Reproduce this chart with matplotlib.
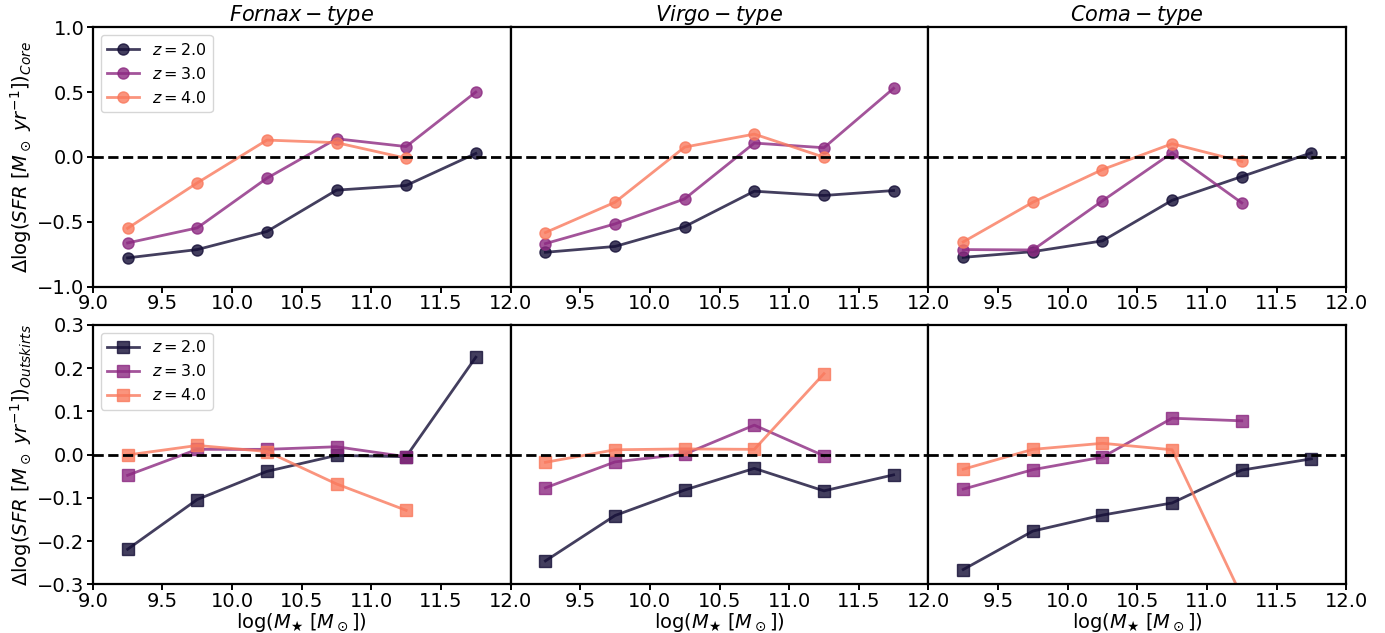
import numpy as np
import matplotlib
matplotlib.use("Agg")
import matplotlib.pyplot as plt
from matplotlib import cm

mass = [9.25, 9.75, 10.25, 10.75, 11.25, 11.75]
clusters = ["Fornax", "Virgo", "Coma"]
redshifts = ["2.0", "3.0", "4.0"]

# core offsets, per cluster, per redshift
core = {
    "Fornax": [[-0.778, -0.714, -0.575, -0.256, -0.22, 0.027],
               [-0.663, -0.547, -0.164, 0.14, 0.08, 0.50],
               [-0.55, -0.20, 0.13, 0.11, -0.01]],
    "Virgo": [[-0.735, -0.69, -0.537, -0.264, -0.297, -0.259],
              [-0.668, -0.516, -0.323, 0.107, 0.071, 0.529],
              [-0.583, -0.349, 0.076, 0.176, -0.002]],
    "Coma": [[-0.774, -0.73, -0.647, -0.334, -0.151, 0.032],
             [-0.714, -0.717, -0.338, 0.032, -0.354],
             [-0.655, -0.349, -0.097, 0.102, -0.035]],
}

# outskirts offsets
outskirts = {
    "Fornax": [[-0.219, -0.104, -0.039, -0.002, -0.005, 0.225],
               [-0.048, 0.012, 0.012, 0.018, -0.005],
               [-0.001, 0.021, 0.007, -0.068, -0.129]],
    "Virgo": [[-0.246, -0.141, -0.082, -0.032, -0.084, -0.047],
              [-0.077, -0.017, 0.001, 0.068, -0.003],
              [-0.018, 0.011, 0.013, 0.012, 0.187]],
    "Coma": [[-0.266, -0.177, -0.140, -0.112, -0.036, -0.010],
             [-0.080, -0.035, -0.006, 0.084, 0.078],
             [-0.034, 0.012, 0.026, 0.011, -0.328]],
}

colors = [cm.magma(0.1), cm.magma(0.4), cm.magma(0.72)]

plt.rcParams['axes.linewidth'] = 1.6
plt.rcParams['xtick.major.width'] = 1.4
plt.rcParams['ytick.major.width'] = 1.4
plt.rcParams['xtick.major.size'] = 4
plt.rcParams['ytick.major.size'] = 4
plt.rcParams['xtick.major.pad'] = 1.5
plt.rcParams['ytick.major.pad'] = 2

fig, axes = plt.subplots(2, 3, figsize=(13.85, 6.33), dpi=100)
fig.subplots_adjust(left=0.067, right=0.972, top=0.957, bottom=0.077,
                    wspace=0, hspace=0.147)

for row, (data, marker) in enumerate([(core, 'o'), (outskirts, 's')]):
    for col, name in enumerate(clusters):
        ax = axes[row, col]
        for i, z in enumerate(redshifts):
            vals = data[name][i]
            ax.plot(mass[:len(vals)], vals, marker=marker, ms=8, lw=2,
                    color=colors[i], alpha=0.8, label=r'$z = %s$' % z)
        ax.axhline(0, color='k', ls='--', lw=2)
        ax.set_xlim(9.0, 12.0)
        ticks = np.arange(9.0, 12.01, 0.5)
        ax.set_xticks(ticks)
        labels = ['%.1f' % t for t in ticks]
        if col > 0:
            labels[0] = ''
        ax.set_xticklabels(labels)
        ax.tick_params(labelsize=14)
        if row == 0:
            ax.set_ylim(-1.0, 1.0)
            ax.set_yticks(np.arange(-1.0, 1.01, 0.5))
            ax.set_title(r'$%s-type$' % name, fontsize=15, pad=4)
        else:
            ax.set_ylim(-0.3, 0.3)
            ax.set_yticks(np.arange(-0.3, 0.31, 0.1))
            ax.set_xlabel(r'$\log(M_\bigstar\ [M_\odot])$', fontsize=14, labelpad=0)
        if col > 0:
            ax.set_yticks([])
        else:
            ax.legend(loc='upper left', fontsize=11.5)

axes[0, 0].set_ylabel(r'$\Delta\log(SFR\ [M_\odot\ yr^{-1}])_{Core}$', fontsize=14, labelpad=2)
axes[1, 0].set_ylabel(r'$\Delta\log(SFR\ [M_\odot\ yr^{-1}])_{Outskirts}$', fontsize=14, labelpad=2)

plt.savefig("out.png")
